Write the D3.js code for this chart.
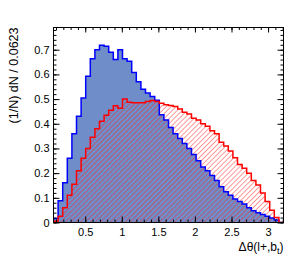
<!DOCTYPE html>
<html><head><meta charset="utf-8">
<script src="https://cdn.jsdelivr.net/npm/d3@7"></script>
<style>
html,body{margin:0;padding:0;background:#fff;}
text{font-family:"Liberation Sans",Arial,Helvetica,sans-serif;}
</style></head>
<body>
<svg id="c" width="305" height="262"></svg>
<script>
// ---- data ----
const xMin = 0.066;
const binWidth = 0.0629;
const nBins = 50;
const blueValues = [0.016,0.088,0.161,0.26,0.36,0.43,0.504,0.592,0.663,0.70,
  0.718,0.714,0.69,0.66,0.70,0.663,0.653,0.608,0.57,0.54,
  0.525,0.51,0.495,0.437,0.415,0.385,0.36,0.34,0.32,0.30,
  0.275,0.25,0.225,0.21,0.19,0.17,0.145,0.125,0.11,0.095,
  0.085,0.075,0.06,0.048,0.04,0.032,0.025,0.018,0.01,0.0];
const redValues = [0.005,0.025,0.06,0.11,0.155,0.21,0.26,0.30,0.345,0.38,
  0.41,0.435,0.455,0.473,0.463,0.50,0.487,0.485,0.485,0.485,
  0.49,0.494,0.49,0.483,0.477,0.474,0.47,0.46,0.447,0.44,
  0.422,0.415,0.40,0.39,0.372,0.36,0.325,0.31,0.29,0.262,
  0.235,0.22,0.20,0.17,0.152,0.12,0.085,0.05,0.02,0.0];
const xTickLabels = [0.5,1,1.5,2,2.5,3];
const yTickLabels = [0,0.1,0.2,0.3,0.4,0.5,0.6,0.7];
const yMax = 0.79;
const yTitle = "(1/N) dN / 0.0623";

// ---- layout ----
const L = 53.5, T = 27.5, W = 230, H = 195;
const svg = d3.select("#c");
const x = d3.scaleLinear().domain([xMin, xMin + nBins*binWidth]).range([L, L+W]);
const y = d3.scaleLinear().domain([0, yMax]).range([T+H, T]);

const defs = svg.append("defs");
const pat = defs.append("pattern").attr("id","hatch").attr("patternUnits","userSpaceOnUse")
  .attr("width",3.5).attr("height",3.5).attr("patternTransform","rotate(45)");
pat.append("line").attr("x1",0).attr("y1",0).attr("x2",0).attr("y2",3.5)
  .attr("stroke","#ff2020").attr("stroke-width",0.9);
defs.append("clipPath").attr("id","clip").append("rect")
  .attr("x",L).attr("y",T).attr("width",W).attr("height",H);

function stepPoints(vals){
  const pts = [[xMin,0]];
  vals.forEach((v,i)=>pts.push([xMin+i*binWidth, v]));
  pts.push([xMin+nBins*binWidth, vals[vals.length-1]]);
  pts.push([xMin+nBins*binWidth, 0]);
  return pts;
}
const line = d3.line().x(d=>x(d[0])).y(d=>y(d[1])).curve(d3.curveStepAfter);

const g = svg.append("g").attr("clip-path","url(#clip)");
g.append("path").attr("d", line(stepPoints(blueValues)))
  .attr("fill","#6f8dc9").attr("stroke","none");
g.append("path").attr("d", line(stepPoints(redValues)))
  .attr("fill","url(#hatch)").attr("stroke","none");
g.append("path").attr("d", line(stepPoints(blueValues)))
  .attr("fill","none").attr("stroke","#0000ff").attr("stroke-width",1.5);
g.append("path").attr("d", line(stepPoints(redValues)))
  .attr("fill","none").attr("stroke","#ff0000").attr("stroke-width",1.5);

// ---- axes ----
function minor(step, lo, hi){
  const out=[]; for(let v=Math.ceil(lo/step-1e-9)*step; v<=hi+1e-9; v+=step) out.push(+v.toFixed(4)); return out;
}
const xMinor = minor(0.1, x.domain()[0], x.domain()[1]);
const yMinor = minor(0.02, 0, yMax);
function style(sel){ sel.select(".domain").remove(); sel.selectAll("line").attr("stroke","#000"); sel.selectAll("text").attr("font-size","11px").attr("fill","#000"); }

svg.append("g").attr("transform",`translate(0,${T+H})`)
  .call(d3.axisBottom(x).tickValues(xMinor).tickFormat("").tickSizeInner(-3).tickSizeOuter(0)).call(style);
svg.append("g").attr("transform",`translate(0,${T+H})`)
  .call(d3.axisBottom(x).tickValues(xTickLabels).tickFormat(d3.format("")).tickSizeInner(-6).tickSizeOuter(0).tickPadding(5.4)).call(style);
svg.append("g").attr("transform",`translate(0,${T})`)
  .call(d3.axisTop(x).tickValues(xMinor).tickFormat("").tickSizeInner(-2.5).tickSizeOuter(0)).call(style);
svg.append("g").attr("transform",`translate(0,${T})`)
  .call(d3.axisTop(x).tickValues(xTickLabels).tickFormat("").tickSizeInner(-5).tickSizeOuter(0)).call(style);

svg.append("g").attr("transform",`translate(${L},0)`)
  .call(d3.axisLeft(y).tickValues(yMinor).tickFormat("").tickSizeInner(-3).tickSizeOuter(0)).call(style);
svg.append("g").attr("transform",`translate(${L},0)`)
  .call(d3.axisLeft(y).tickValues(yTickLabels).tickFormat(d3.format("")).tickSizeInner(-6).tickSizeOuter(0).tickPadding(4)).call(style);
svg.append("g").attr("transform",`translate(${L+W},0)`)
  .call(d3.axisRight(y).tickValues(yMinor).tickFormat("").tickSizeInner(-3).tickSizeOuter(0)).call(style);
svg.append("g").attr("transform",`translate(${L+W},0)`)
  .call(d3.axisRight(y).tickValues(yTickLabels).tickFormat("").tickSizeInner(-6).tickSizeOuter(0)).call(style);

svg.append("rect").attr("x",L).attr("y",T).attr("width",W).attr("height",H)
  .attr("fill","none").attr("stroke","#000").attr("stroke-width",1);

// titles
svg.append("text").attr("transform",`translate(17.5,${T})rotate(-90)`)
  .attr("text-anchor","end").attr("font-size","12.5px").text(yTitle);
const xt = svg.append("text").attr("x",L+W).attr("y",250.5).attr("text-anchor","end").attr("font-size","12px");
xt.append("tspan").text("Δθ(l+,b");
xt.append("tspan").attr("font-size","9px").attr("dy",3).text("t");
xt.append("tspan").attr("dy",-3).text(")");
</script>
</body></html>
